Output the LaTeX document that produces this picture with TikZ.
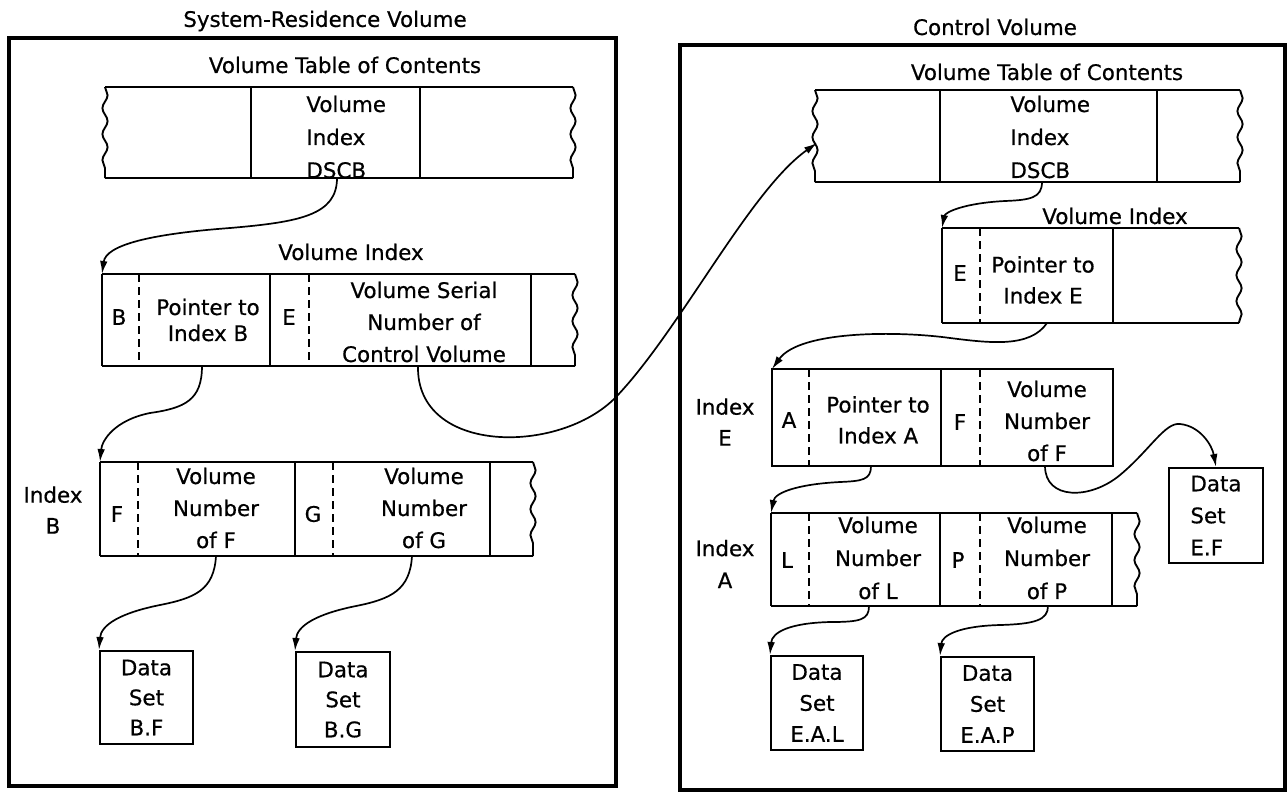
\documentclass[tikz,border=0pt]{standalone}
\usepackage{fontspec}
\setmainfont{DejaVu Sans}[FakeBold=0.6]
\usetikzlibrary{arrows.meta,decorations.pathmorphing}
\newcommand\lblfont{\fontsize{10.7}{16}\selectfont}
\tikzset{
  ln/.style={line width=0.95pt},
  frame/.style={line width=2.1pt},
  dsep/.style={line width=0.8pt, dash pattern=on 4pt off 2.5pt},
  wavy/.style={line width=0.95pt, decorate, decoration={snake, amplitude=1.3pt, segment length=13pt}},
  txt/.style={font=\lblfont, align=center, inner sep=0pt},
  bs/.style={font={\fontsize{10.7}{#1}\selectfont}},
  arr/.style={line width=0.85pt, -{Latex[length=6.5pt,width=3.8pt]}},
  dsbox/.style={draw, line width=0.95pt, anchor=north west, inner sep=0pt, font=\lblfont, align=center, text depth=0pt}
}
\begin{document}
\begin{tikzpicture}[x=0.5pt,y=-0.5pt]
\useasboundingbox (0,0) rectangle (1288,793);

% ================= LEFT: System-Residence Volume =================
\node[txt] (tSys) at (325,21) {System-Residence Volume};
\draw[frame] (9,38) rectangle (616,786);

% VTOC (left)
\node[txt] (tVtocL) at (345,65) {Volume Table of Contents};
\draw[ln] (105,87) -- (573,87) (105,178) -- (573,178);
\draw[wavy] (105,87) -- (105,178);
\draw[wavy] (573,87) -- (573,178);
\draw[ln] (251,87) -- (251,178) (420,87) -- (420,178);
\node[txt, bs=16.5pt, align=left, anchor=west] (dscbL) at (306,137) {Volume\\Index\\DSCB};
\coordinate (dscbL-out) at (337,178);

% Volume Index (left)
\node[txt] (tViL) at (351,252) {Volume Index};
\coordinate (viL-nw) at (102,274);
\draw[ln] (102,274) -- (575,274) (102,366) -- (575,366) (102,274) -- (102,366);
\draw[wavy] (575,274) -- (575,366);
\draw[dsep] (139,274) -- (139,366) (309,274) -- (309,366);
\draw[ln] (270,274) -- (270,366) (531,274) -- (531,366);
\node[txt] (viL-B) at (119,317) {B};
\node[txt, bs=13pt] (viL-ptr) at (208,320) {Pointer to\\Index B};
\node[txt] (viL-E) at (289,317) {E};
\node[txt, bs=16pt] (viL-vsn) at (424,322) {Volume Serial\\Number of\\Control Volume};
\coordinate (viL-ptr-out) at (202,366);
\coordinate (viL-vsn-out) at (418,366);

% Index B
\node[txt, bs=15.5pt] (lblIdxB) at (53,510) {Index\\B};
\coordinate (ixB-nw) at (100,462);
\draw[ln] (100,462) -- (533,462) (100,556) -- (533,556) (100,462) -- (100,556);
\draw[wavy] (533,462) -- (533,556);
\draw[dsep] (138,462) -- (138,556) (333,462) -- (333,556);
\draw[ln] (295,462) -- (295,556) (490,462) -- (490,556);
\node[txt] (ixB-F) at (117,514) {F};
\node[txt, bs=16pt] (ixB-vnf) at (216,508) {Volume\\Number\\of F};
\node[txt] (ixB-G) at (313,514) {G};
\node[txt, bs=16pt] (ixB-vng) at (424,508) {Volume\\Number\\of G};
\coordinate (ixB-f-out) at (216,556);
\coordinate (ixB-g-out) at (412,556);

% Data sets (left)
\node[dsbox, bs=15pt, minimum width=46.5pt, minimum height=46.5pt] (dsBF) at (99,650) {Data\\Set\\B.F};
\node[dsbox, bs=15pt, minimum width=47pt, minimum height=47.5pt] (dsBG) at (295,651) {Data\\Set\\B.G};

% ================= RIGHT: Control Volume =================
\node[txt] (tCtl) at (995,27) {Control Volume};
\draw[frame] (680,45) rectangle (1285,790);

% VTOC (right)
\node[txt] (tVtocR) at (1047,72) {Volume Table of Contents};
\coordinate (vtocR-w) at (817,143);
\draw[ln] (815,90) -- (1240,90) (815,182) -- (1240,182);
\draw[wavy] (815,90) -- (815,182);
\draw[wavy] (1240,90) -- (1240,182);
\draw[ln] (940,90) -- (940,182) (1157,90) -- (1157,182);
\node[txt, bs=16.5pt, align=left, anchor=west] (dscbR) at (1010,137) {Volume\\Index\\DSCB};
\coordinate (dscbR-out) at (1042,182);

% Volume Index (right)
\node[txt] (tViR) at (1115,216) {Volume Index};
\coordinate (viR-nw) at (942,228);
\draw[ln] (942,228) -- (1239,228) (942,323) -- (1239,323) (942,228) -- (942,323);
\draw[wavy] (1239,228) -- (1239,323);
\draw[dsep] (980,228) -- (980,323);
\draw[ln] (1113,228) -- (1113,323);
\node[txt] (viR-E) at (960,273) {E};
\node[txt, bs=15.5pt] (viR-ptr) at (1043,280) {Pointer to\\Index E};
\coordinate (viR-ptr-out) at (1047,323);

% Index E
\node[txt, bs=15.5pt] (lblIdxE) at (725,422) {Index\\E};
\coordinate (ixE-nw) at (772,369);
\draw[ln] (772,369) rectangle (1113,466);
\draw[dsep] (809,369) -- (809,466) (980,369) -- (980,466);
\draw[ln] (941,369) -- (941,466);
\node[txt] (ixE-A) at (789,420) {A};
\node[txt, bs=15.5pt] (ixE-ptr) at (878,420) {Pointer to\\Index A};
\node[txt] (ixE-F) at (960,422) {F};
\node[txt, bs=16pt] (ixE-vnf) at (1047,421) {Volume\\Number\\of F};
\coordinate (ixE-ptr-out) at (871,466);
\coordinate (ixE-f-out) at (1045,466);

% Index A
\node[txt, bs=16pt] (lblIdxA) at (725,564) {Index\\A};
\coordinate (ixA-nw) at (771,513);
\draw[ln] (771,513) -- (1137,513) (771,606) -- (1137,606) (771,513) -- (771,606);
\draw[wavy] (1137,513) -- (1137,606);
\draw[dsep] (809,513) -- (809,606) (980,513) -- (980,606);
\draw[ln] (940,513) -- (940,606) (1112,513) -- (1112,606);
\node[txt] (ixA-L) at (787,560) {L};
\node[txt, bs=16.5pt] (ixA-vnl) at (878,558) {Volume\\Number\\of L};
\node[txt] (ixA-P) at (958,560) {P};
\node[txt, bs=16.5pt] (ixA-vnp) at (1047,558) {Volume\\Number\\of P};
\coordinate (ixA-l-out) at (869,606);
\coordinate (ixA-p-out) at (1048,606);

% Data sets (right)
\node[dsbox, bs=16pt, align=left, minimum width=47pt, minimum height=47.5pt] (dsEF) at (1168,467) {Data\\Set\\E.F};
\node[dsbox, bs=15.5pt, minimum width=46pt, minimum height=47pt] (dsEAL) at (770,655) {Data\\Set\\E.A.L};
\node[dsbox, bs=15.5pt, minimum width=46.5pt, minimum height=47pt] (dsEAP) at (940,656) {Data\\Set\\E.A.P};

% ================= Connectors =================
\draw[arr] (dscbL-out) .. controls (337,215) and (300,222) .. (230,228)
           .. controls (150,234) and (106,245) .. (viL-nw);
\draw[arr] (viL-ptr-out) .. controls (202,400) and (185,408) .. (150,413)
           .. controls (115,420) and (102,440) .. (ixB-nw);
\draw[arr] (ixB-f-out) .. controls (214,590) and (195,598) .. (160,605)
           .. controls (120,613) and (101,625) .. (dsBF.north west);
\draw[arr] (ixB-g-out) .. controls (410,590) and (391,599) .. (356,606)
           .. controls (316,614) and (297,626) .. (dsBG.north west);
\draw[arr] (viL-vsn-out) .. controls (416,455) and (560,455) .. (616,397)
           .. controls (680,330) and (750,190) .. (vtocR-w);
\draw[arr] (dscbR-out) .. controls (1042,198) and (1030,200) .. (1005,201)
           .. controls (965,203) and (945,212) .. (viR-nw);
\draw[arr] (viR-ptr-out) .. controls (1030,348) and (990,343) .. (950,338)
           .. controls (900,331) and (800,330) .. (ixE-nw);
\draw[arr] (ixE-ptr-out) .. controls (871,480) and (862,481) .. (840,482)
           .. controls (800,484) and (775,492) .. (ixA-nw);
\draw[arr] (ixE-f-out) .. controls (1045,500) and (1090,500) .. (1120,475)
           .. controls (1150,450) and (1165,422) .. (1180,424)
           .. controls (1200,426) and (1212,445) .. (dsEF.north west -| 1216,0);
\draw[arr] (ixA-l-out) .. controls (869,620) and (860,622) .. (830,622)
           .. controls (790,623) and (772,632) .. (dsEAL.north west);
\draw[arr] (ixA-p-out) .. controls (1048,620) and (1035,624) .. (1000,625)
           .. controls (960,626) and (942,635) .. (dsEAP.north west);
\end{tikzpicture}
\end{document}
